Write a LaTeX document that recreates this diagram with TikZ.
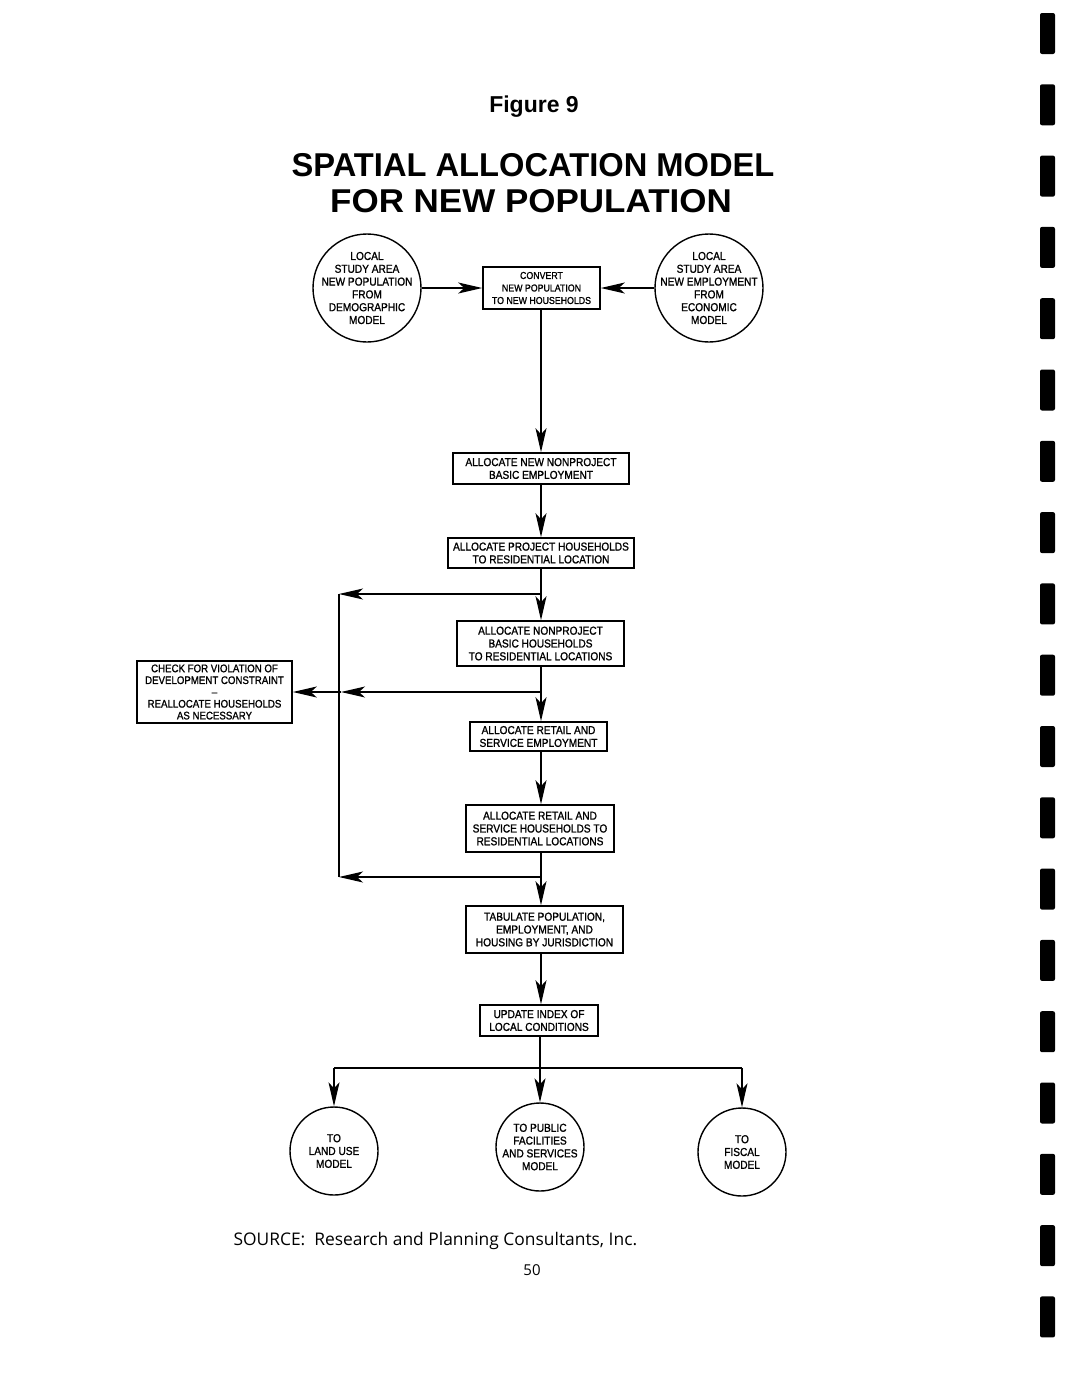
\documentclass[tikz,border=0pt]{standalone}
\usepackage{fontspec}
\setmainfont{Liberation Sans}
\newfontfamily\lett[FakeStretch=0.88,FakeBold=1.2]{Liberation Sans}
\newfontfamily\srcfont{Open Sans}
\usetikzlibrary{arrows.meta,calc}
\begin{document}
\begin{tikzpicture}[x=1pt,y=-1pt,
  box/.style={draw,line width=1.6pt,inner sep=0pt,align=center,
    font=\lett\fontsize{11.5}{12.8}\selectfont},
  circ/.style={draw,circle,line width=1.4pt,inner sep=0pt},
  ctext/.style={align=center,inner sep=0pt,font=\lett\fontsize{11.5}{12.8}\selectfont},
  conn/.style={line width=1.3pt},
  arr/.style={conn,-{Stealth[length=24pt,width=11pt,inset=6pt]}},
  binder/.style={fill=black,rounded corners=2pt}
]
\useasboundingbox (0,0) rectangle (1067,1379);
\fill[white] (0,0) rectangle (1067,1379);

% binder holes
\foreach \k in {0,...,18}
  \fill[binder] (1040,{13+71.3*\k}) rectangle (1055,{54+71.3*\k});

% titles
\node[font=\bfseries\fontsize{23}{26}\selectfont] (fig) at (534,107) {Figure 9};
\node[font=\bfseries\fontsize{33}{38}\selectfont] (t1) at (533,165) {\scalebox{0.99}[1]{SPATIAL ALLOCATION MODEL}};
\node[font=\bfseries\fontsize{33}{38}\selectfont] (t2) at (531,201) {\scalebox{1.06}[1]{FOR NEW POPULATION}};

% top circles and convert box
\node[circ,minimum size=108pt] (lc) at (367,288) {};
\node[ctext] (lct) at (lc) {LOCAL\\STUDY AREA\\NEW POPULATION\\FROM\\DEMOGRAPHIC\\MODEL};
\node[circ,minimum size=108pt] (rc) at (709,288) {};
\node[ctext] (rct) at (rc) {LOCAL\\STUDY AREA\\NEW EMPLOYMENT\\FROM\\ECONOMIC\\MODEL};
\node[box,minimum width=117pt,minimum height=42pt,font=\lett\fontsize{10}{12.5}\selectfont] (conv) at (541.5,288) {CONVERT\\NEW POPULATION\\TO NEW HOUSEHOLDS};

% flow boxes
\node[box,minimum width=176pt,minimum height=31pt] (b2) at (541,468.5) {ALLOCATE NEW NONPROJECT\\BASIC EMPLOYMENT};
\node[box,minimum width=186pt,minimum height=30pt] (b3) at (541,553) {ALLOCATE PROJECT HOUSEHOLDS\\TO RESIDENTIAL LOCATION};
\node[box,minimum width=167pt,minimum height=45pt] (b4) at (540.5,643.5) {ALLOCATE NONPROJECT\\BASIC HOUSEHOLDS\\TO RESIDENTIAL LOCATIONS};
\node[box,minimum width=137pt,minimum height=29pt] (b5) at (538.5,736.5) {ALLOCATE RETAIL AND\\SERVICE EMPLOYMENT};
\node[box,minimum width=148pt,minimum height=47pt] (b6) at (540,828.5) {ALLOCATE RETAIL AND\\SERVICE HOUSEHOLDS TO\\RESIDENTIAL LOCATIONS};
\node[box,minimum width=157pt,minimum height=47pt] (b7) at (544.5,929.5) {TABULATE POPULATION,\\EMPLOYMENT, AND\\HOUSING BY JURISDICTION};
\node[box,minimum width=118pt,minimum height=31pt] (b8) at (539,1020.5) {UPDATE INDEX OF\\LOCAL CONDITIONS};
\node[box,minimum width=155pt,minimum height=62pt,font=\lett\fontsize{11}{11.8}\selectfont] (chk) at (214.5,692) {CHECK FOR VIOLATION OF\\DEVELOPMENT CONSTRAINT\\\textendash\\REALLOCATE HOUSEHOLDS\\AS NECESSARY};

% bottom circles
\node[circ,minimum size=88pt] (lu) at (334,1151) {};
\node[ctext] (lut) at (lu) {TO\\LAND USE\\MODEL};
\node[circ,minimum size=88pt] (pf) at (540,1147) {};
\node[ctext] (pft) at (pf) {TO PUBLIC\\FACILITIES\\AND SERVICES\\MODEL};
\node[circ,minimum size=88pt] (fm) at (742,1152) {};
\node[ctext] (fmt) at (fm) {TO\\FISCAL\\MODEL};

% spine and junctions
\coordinate (sp) at (541,0);
\coordinate (j1) at (541,594);
\coordinate (j2) at (541,692);
\coordinate (j3) at (541,877);
\coordinate (c1) at (339,594);
\coordinate (c2) at (341,692);
\coordinate (c3) at (339,877);
\coordinate (bl) at (334,1068);
\coordinate (bm) at (540,1068);
\coordinate (br) at (742,1068);

% connectors
\draw[arr] (lc.east) -- (conv.west);
\draw[arr] (rc.west) -- (conv.east);
\draw[arr] (conv.south -| sp) -- (b2.north -| sp);
\draw[arr] (b2.south -| sp) -- (b3.north -| sp);
\draw[conn] (b3.south -| sp) -- (j1);
\draw[arr] (j1) -- (b4.north -| sp);
\draw[arr] (j1) -- (c1);
\draw[conn] (c1) -- (c3);
\draw[arr] (b4.south -| sp) -- (b5.north -| sp);
\draw[arr] (j2) -- (c2);
\draw[arr] (c2) -- (chk.east);
\draw[arr] (b5.south -| sp) -- (b6.north -| sp);
\draw[conn] (b6.south -| sp) -- (j3);
\draw[arr] (j3) -- (c3);
\draw[arr] (j3) -- (b7.north -| sp);
\draw[arr] (b7.south -| sp) -- (b8.north -| sp);
\draw[conn] (b8.south -| bm) -- (bm);
\draw[conn] (bl) -- (br);
\draw[arr] (bl) -- (lu.north);
\draw[arr] (bm) -- (pf.north);
\draw[arr] (br) -- (fm.north);

% source and page number
\node[font=\srcfont\fontsize{17.4}{21}\selectfont,anchor=west] (src) at (230,1241) {SOURCE:\ \ Research and Planning Consultants, Inc.};
\node[font=\srcfont\fontsize{15}{18}\selectfont] (pg) at (532,1270) {50};
\end{tikzpicture}
\end{document}
